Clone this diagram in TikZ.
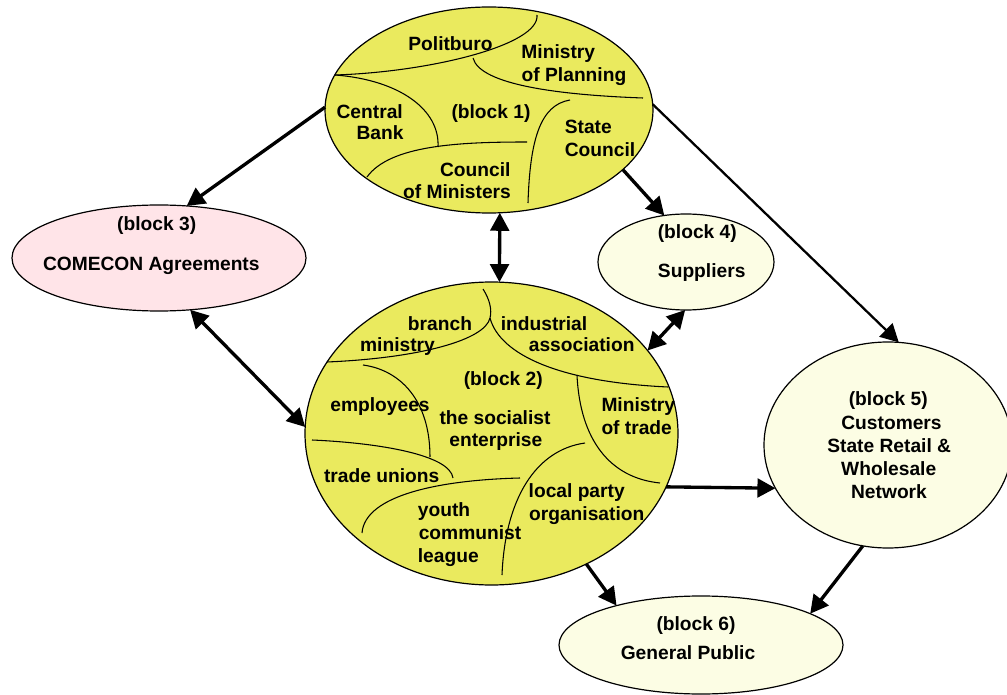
\documentclass[tikz,border=0pt]{standalone}
\usepackage{fontspec}
\setmainfont{Liberation Sans}
\usetikzlibrary{arrows.meta,shapes.geometric}
\definecolor{blkyel}{RGB}{234,234,94}
\definecolor{blkpink}{RGB}{255,228,232}
\definecolor{blkpale}{RGB}{252,253,228}
\begin{document}
\begin{tikzpicture}[x=0.75pt,y=-0.75pt,
  blk/.style={ellipse, draw=black, line width=0.9pt, inner sep=0pt, outer sep=0pt},
  lbl/.style={font=\bfseries\fontsize{14.4}{17}\selectfont, inner sep=0pt, anchor=base},
  div/.style={line width=0.8pt},
  arr/.style={line width=2.5pt, -{Triangle[length=13.5pt,width=14pt]}},
  darr/.style={line width=2.5pt, {Triangle[length=13.5pt,width=14pt]}-{Triangle[length=13.5pt,width=14pt]}}]
\useasboundingbox (0,0) rectangle (1007,695);

% blocks
\node[blk, fill=blkyel, minimum width=246pt, minimum height=154.5pt] (b1) at (489,110) {};
\node[blk, fill=blkyel, minimum width=279.75pt, minimum height=227.25pt] (b2) at (491.5,433.5) {};
\node[blk, fill=blkpink, minimum width=220.5pt, minimum height=79.5pt] (b3) at (159,258) {};
\node[blk, fill=blkpale, minimum width=132pt, minimum height=72pt] (b4) at (686,262) {};
\node[blk, fill=blkpale, minimum width=186pt, minimum height=154.5pt] (b5) at (888,445) {};
\node[blk, fill=blkpale, minimum width=213pt, minimum height=73.5pt] (b6) at (701,645) {};

% dividing curves, block 1
\draw[div] (335,75) .. controls (430,72) and (540,45) .. (537,15);
\draw[div] (473,58) .. controls (480,85) and (560,95) .. (643,98);
\draw[div] (335,75) .. controls (400,80) and (440,110) .. (438,147);
\draw[div] (367,177) .. controls (390,145) and (460,142) .. (527,142);
\draw[div] (570,100) .. controls (540,105) and (530,140) .. (528,203);

% dividing curves, block 2
\draw[div] (483,289) .. controls (490,300) and (492,310) .. (490,318)
           .. controls (485,340) and (420,358) .. (327,362);
\draw[div] (490,318) .. controls (500,355) and (560,382) .. (668,387);
\draw[div] (363,365) .. controls (400,370) and (430,400) .. (430,457);
\draw[div] (312,440) .. controls (380,443) and (450,455) .. (453,478);
\draw[div] (362,533) .. controls (365,495) and (440,480) .. (520,478);
\draw[div] (585,443) .. controls (535,450) and (505,500) .. (502,575);
\draw[div] (577,375) .. controls (580,440) and (610,478) .. (660,483);

% labels block 1
\node[lbl] (t1a) at (450.5,51) {Politburo};
\node[lbl] (t1b) at (558.3,59) {Ministry};
\node[lbl] (t1c) at (574,81.7) {of Planning};
\node[lbl] (t1d) at (491,118.3) {(block 1)};
\node[lbl] (t1e) at (369.7,118.3) {Central};
\node[lbl] (t1f) at (380,140) {Bank};
\node[lbl] (t1g) at (588.3,133.3) {State};
\node[lbl] (t1h) at (600,156.7) {Council};
\node[lbl] (t1i) at (475.3,176.7) {Council};
\node[lbl] (t1j) at (457,198.3) {of Ministers};

% labels block 2
\node[lbl] (t2a) at (440,330.7) {branch};
\node[lbl] (t2b) at (397.5,351.7) {ministry};
\node[lbl] (t2c) at (544,330.7) {industrial};
\node[lbl] (t2d) at (581.7,351.7) {association};
\node[lbl] (t2e) at (503.3,386) {(block 2)};
\node[lbl] (t2f) at (380,411.7) {employees};
\node[lbl] (t2g) at (495,424.3) {the socialist};
\node[lbl] (t2h) at (495.8,446.7) {enterprise};
\node[lbl] (t2i) at (638.3,411.7) {Ministry};
\node[lbl] (t2j) at (636.7,434) {of trade};
\node[lbl] (t2k) at (381.7,482.3) {trade unions};
\node[lbl] (t2l) at (444,516.7) {youth};
\node[lbl] (t2m) at (470,539.3) {communist};
\node[lbl] (t2n) at (448.3,562.7) {league};
\node[lbl] (t2o) at (576.7,497.3) {local party};
\node[lbl] (t2p) at (586.7,520) {organisation};

% labels blocks 3-6
\node[lbl] (t3a) at (156.7,230.7) {(block 3)};
\node[lbl] (t3b) at (151.3,270.7) {COMECON Agreements};
\node[lbl] (t4a) at (697.3,238.3) {(block 4)};
\node[lbl] (t4b) at (701.7,277.3) {Suppliers};
\node[lbl] (t5a) at (888.3,406) {(block 5)};
\node[lbl] (t5b) at (891.5,429) {Customers};
\node[lbl] (t5c) at (889.2,452) {State Retail \&};
\node[lbl] (t5d) at (888.7,475.7) {Wholesale};
\node[lbl] (t5e) at (889,498.3) {Network};
\node[lbl] (t6a) at (696,630) {(block 6)};
\node[lbl] (t6b) at (688,659.3) {General Public};

% connectors
\draw[arr] (b1.179) -- (b3.62);
\draw[darr] (b1.276) -- (b2.87);
\draw[arr] (b1.336) -- (b4.115);
\draw[arr, line width=1.7pt] (b1.2) -- (b5.84);
\draw[darr] (b3.301) -- (b2.178);
\draw[darr] (b4.269) -- (b2.28);
\draw[arr] (b2.343) -- (b5.201);
\draw[arr] (b2.306) -- (b6.155);
\draw[arr] (b5.256) -- (b6.16);
\end{tikzpicture}
\end{document}
